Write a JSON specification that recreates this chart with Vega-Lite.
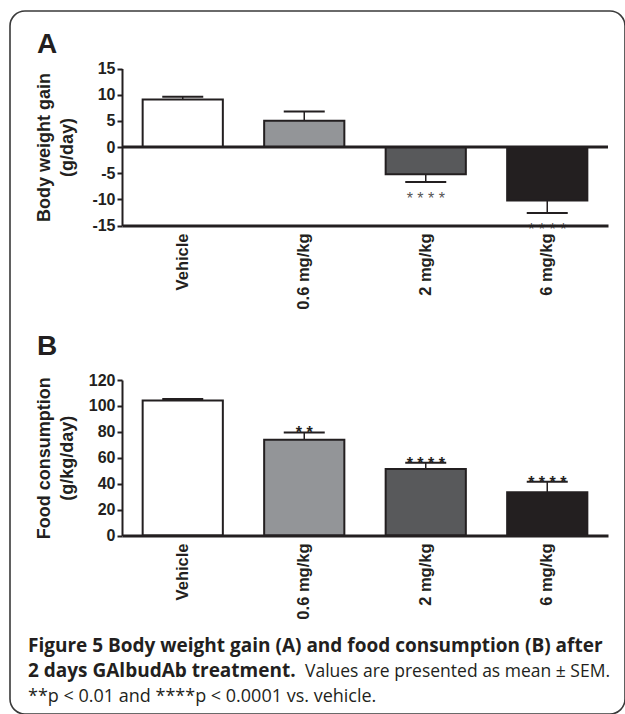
{
  "$schema": "https://vega.github.io/schema/vega-lite/v6.json",
  "width": 615,
  "height": 703,
  "autosize": {"type": "none"},
  "padding": {"left": 10, "top": 11, "right": 0, "bottom": 0},
  "background": "white",
  "config": {
    "view": {"stroke": "#3a3a3a", "strokeWidth": 1.6, "cornerRadius": 15, "fill": "white"},
    "axis": {"labelFont": "Liberation Sans", "titleFont": "Liberation Sans"},
    "text": {"font": "Liberation Sans"}
  },
  "datasets": {
    "weight": [
      {"group": "Vehicle", "mean": 9.1, "err": 9.6, "sig": null},
      {"group": "0.6 mg/kg", "mean": 5.0, "err": 6.8, "sig": null},
      {"group": "2 mg/kg", "mean": -5.2, "err": -6.7, "sig": "****"},
      {"group": "6 mg/kg", "mean": -10.2, "err": -12.6, "sig": "****"}
    ],
    "food": [
      {"group": "Vehicle", "mean": 104.2, "err": 105.4, "sig": null},
      {"group": "0.6 mg/kg", "mean": 73.8, "err": 79.5, "sig": "**"},
      {"group": "2 mg/kg", "mean": 51.3, "err": 56.2, "sig": "****"},
      {"group": "6 mg/kg", "mean": 33.3, "err": 41.5, "sig": "****"}
    ],
    "panels": [{"panel": "A"}, {"panel": "B"}],
    "caption": [
      {"line": 1, "part": "heading", "text": "Figure 5 Body weight gain (A) and food consumption (B) after"},
      {"line": 2, "part": "heading", "text": "2 days GAlbudAb treatment."},
      {"line": 2, "part": "body", "text": "Values are presented as mean ± SEM."},
      {"line": 3, "part": "body", "text": "**p < 0.01 and ****p < 0.0001 vs. vehicle."}
    ]
  },
  "layer": [
    {
      "data": {"name": "weight"},
      "transform": [{"calculate": "isValid(datum.sig) ? join(split(datum.sig, ''), ' ') : ''", "as": "stars"}],
      "encoding": {
        "x": {
          "field": "group", "type": "nominal", "sort": null,
          "scale": {"domain": ["Vehicle", "0.6 mg/kg", "2 mg/kg", "6 mg/kg"], "range": [112, 598], "paddingInner": 0.34, "paddingOuter": 0.17},
          "axis": {"orient": "bottom", "offset": -488.5, "title": null, "labelAngle": -90, "labelFontSize": 16.5, "labelFontWeight": "bold", "labelColor": "#231f20", "labelPadding": 7.5, "ticks": false, "tickSize": 0, "domainColor": "#231f20", "domainWidth": 3, "labelOverlap": false, "zindex": 1}
        }
      },
      "layer": [
        {
          "mark": {"type": "rule", "color": "#231f20", "strokeWidth": 1.5},
          "encoding": {
            "y": {"field": "mean", "type": "quantitative", "scale": {"domain": [-15, 15], "range": [214.5, 57.5], "nice": false, "zero": false},
              "axis": {"orient": "left", "offset": -112, "values": [-15, -10, -5, 0, 5, 10, 15], "labelExpr": "'' + datum.value", "title": ["Body weight gain", "(g/day)"], "titleFontSize": 18, "titleFontWeight": "bold", "titleColor": "#231f20", "titleLineHeight": 23, "titlePadding": 15, "labelFontSize": 16, "labelFontWeight": "bold", "labelColor": "#231f20", "labelPadding": 2, "labelOverlap": false, "labelFlush": false, "tickSize": 5, "tickWidth": 2, "tickColor": "#231f20", "domainColor": "#231f20", "domainWidth": 2, "grid": false}},
            "y2": {"field": "err"}
          }
        },
        {
          "mark": {"type": "bar", "stroke": "#231f20", "strokeWidth": 2},
          "encoding": {
            "y": {"field": "mean", "type": "quantitative", "scale": {"domain": [-15, 15], "range": [214.5, 57.5], "nice": false, "zero": false},
              "axis": {"orient": "left", "offset": -112, "values": [-15, -10, -5, 0, 5, 10, 15], "labelExpr": "'' + datum.value", "title": ["Body weight gain", "(g/day)"], "titleFontSize": 18, "titleFontWeight": "bold", "titleColor": "#231f20", "titleLineHeight": 23, "titlePadding": 15, "labelFontSize": 16, "labelFontWeight": "bold", "labelColor": "#231f20", "labelPadding": 2, "labelOverlap": false, "labelFlush": false, "tickSize": 5, "tickWidth": 2, "tickColor": "#231f20", "domainColor": "#231f20", "domainWidth": 2, "grid": false}},
            "fill": {"field": "group", "type": "nominal", "scale": {"domain": ["Vehicle", "0.6 mg/kg", "2 mg/kg", "6 mg/kg"], "range": ["#ffffff", "#939598", "#58595b", "#231f20"]}, "legend": null}
          }
        },
        {
          "mark": {"type": "tick", "color": "#231f20", "size": 41, "thickness": 2, "opacity": 1},
          "encoding": {
            "y": {"field": "err", "type": "quantitative", "scale": {"domain": [-15, 15], "range": [214.5, 57.5], "nice": false, "zero": false},
              "axis": {"orient": "left", "offset": -112, "values": [-15, -10, -5, 0, 5, 10, 15], "labelExpr": "'' + datum.value", "title": ["Body weight gain", "(g/day)"], "titleFontSize": 18, "titleFontWeight": "bold", "titleColor": "#231f20", "titleLineHeight": 23, "titlePadding": 15, "labelFontSize": 16, "labelFontWeight": "bold", "labelColor": "#231f20", "labelPadding": 2, "labelOverlap": false, "labelFlush": false, "tickSize": 5, "tickWidth": 2, "tickColor": "#231f20", "domainColor": "#231f20", "domainWidth": 2, "grid": false}}
          }
        },
        {
          "transform": [{"filter": "isValid(datum.sig)"}],
          "mark": {"type": "text", "fontSize": 16, "color": "#555555", "baseline": "alphabetic", "align": "center", "dy": 22},
          "encoding": {
            "y": {"field": "err", "type": "quantitative", "scale": {"domain": [-15, 15], "range": [214.5, 57.5], "nice": false, "zero": false},
              "axis": {"orient": "left", "offset": -112, "values": [-15, -10, -5, 0, 5, 10, 15], "labelExpr": "'' + datum.value", "title": ["Body weight gain", "(g/day)"], "titleFontSize": 18, "titleFontWeight": "bold", "titleColor": "#231f20", "titleLineHeight": 23, "titlePadding": 15, "labelFontSize": 16, "labelFontWeight": "bold", "labelColor": "#231f20", "labelPadding": 2, "labelOverlap": false, "labelFlush": false, "tickSize": 5, "tickWidth": 2, "tickColor": "#231f20", "domainColor": "#231f20", "domainWidth": 2, "grid": false}},
            "text": {"field": "stars"}
          }
        }
      ]
    },
    {
      "data": {"values": [{"line": "zero"}]},
      "mark": {"type": "rule", "color": "#231f20", "strokeWidth": 3},
      "encoding": {
        "x": {"datum": 0, "type": "quantitative", "scale": {"domain": [0, 1], "range": [112, 598], "nice": false, "zero": false}, "axis": null},
        "x2": {"datum": 1},
        "y": {"datum": 0, "type": "quantitative", "scale": {"domain": [-15, 15], "range": [214.5, 57.5], "nice": false, "zero": false}, "axis": null}
      }
    },
    {
      "data": {"name": "food"},
      "transform": [{"calculate": "isValid(datum.sig) ? join(split(datum.sig, ''), ' ') : ''", "as": "stars"}],
      "encoding": {
        "x": {
          "field": "group", "type": "nominal", "sort": null,
          "scale": {"domain": ["Vehicle", "0.6 mg/kg", "2 mg/kg", "6 mg/kg"], "range": [112, 598], "paddingInner": 0.34, "paddingOuter": 0.17},
          "axis": {"orient": "bottom", "offset": -178.5, "title": null, "labelAngle": -90, "labelFontSize": 16.5, "labelFontWeight": "bold", "labelColor": "#231f20", "labelPadding": 7.5, "ticks": false, "tickSize": 0, "domainColor": "#231f20", "domainWidth": 3, "labelOverlap": false, "zindex": 1}
        }
      },
      "layer": [
        {
          "mark": {"type": "rule", "color": "#231f20", "strokeWidth": 1.5},
          "encoding": {
            "y": {"field": "mean", "type": "quantitative", "scale": {"domain": [0, 120], "range": [524.5, 369], "nice": false, "zero": false},
              "axis": {"orient": "left", "offset": -112, "values": [0, 20, 40, 60, 80, 100, 120], "title": ["Food consumption", "(g/kg/day)"], "titleFontSize": 18, "titleFontWeight": "bold", "titleColor": "#231f20", "titleLineHeight": 23, "titlePadding": 12, "labelFontSize": 16, "labelFontWeight": "bold", "labelColor": "#231f20", "labelPadding": 2, "labelOverlap": false, "labelFlush": false, "tickSize": 5, "tickWidth": 2, "tickColor": "#231f20", "domainColor": "#231f20", "domainWidth": 2, "grid": false}},
            "y2": {"field": "err"}
          }
        },
        {
          "mark": {"type": "bar", "stroke": "#231f20", "strokeWidth": 2},
          "encoding": {
            "y": {"field": "mean", "type": "quantitative", "scale": {"domain": [0, 120], "range": [524.5, 369], "nice": false, "zero": false},
              "axis": {"orient": "left", "offset": -112, "values": [0, 20, 40, 60, 80, 100, 120], "title": ["Food consumption", "(g/kg/day)"], "titleFontSize": 18, "titleFontWeight": "bold", "titleColor": "#231f20", "titleLineHeight": 23, "titlePadding": 12, "labelFontSize": 16, "labelFontWeight": "bold", "labelColor": "#231f20", "labelPadding": 2, "labelOverlap": false, "labelFlush": false, "tickSize": 5, "tickWidth": 2, "tickColor": "#231f20", "domainColor": "#231f20", "domainWidth": 2, "grid": false}},
            "fill": {"field": "group", "type": "nominal", "scale": {"domain": ["Vehicle", "0.6 mg/kg", "2 mg/kg", "6 mg/kg"], "range": ["#ffffff", "#939598", "#58595b", "#231f20"]}, "legend": null}
          }
        },
        {
          "mark": {"type": "tick", "color": "#231f20", "size": 41, "thickness": 2, "opacity": 1},
          "encoding": {
            "y": {"field": "err", "type": "quantitative", "scale": {"domain": [0, 120], "range": [524.5, 369], "nice": false, "zero": false},
              "axis": {"orient": "left", "offset": -112, "values": [0, 20, 40, 60, 80, 100, 120], "title": ["Food consumption", "(g/kg/day)"], "titleFontSize": 18, "titleFontWeight": "bold", "titleColor": "#231f20", "titleLineHeight": 23, "titlePadding": 12, "labelFontSize": 16, "labelFontWeight": "bold", "labelColor": "#231f20", "labelPadding": 2, "labelOverlap": false, "labelFlush": false, "tickSize": 5, "tickWidth": 2, "tickColor": "#231f20", "domainColor": "#231f20", "domainWidth": 2, "grid": false}}
          }
        },
        {
          "transform": [{"filter": "isValid(datum.sig)"}],
          "mark": {"type": "text", "fontSize": 16, "fontWeight": "bold", "color": "#231f20", "baseline": "alphabetic", "align": "center", "dy": 6},
          "encoding": {
            "y": {"field": "err", "type": "quantitative", "scale": {"domain": [0, 120], "range": [524.5, 369], "nice": false, "zero": false},
              "axis": {"orient": "left", "offset": -112, "values": [0, 20, 40, 60, 80, 100, 120], "title": ["Food consumption", "(g/kg/day)"], "titleFontSize": 18, "titleFontWeight": "bold", "titleColor": "#231f20", "titleLineHeight": 23, "titlePadding": 12, "labelFontSize": 16, "labelFontWeight": "bold", "labelColor": "#231f20", "labelPadding": 2, "labelOverlap": false, "labelFlush": false, "tickSize": 5, "tickWidth": 2, "tickColor": "#231f20", "domainColor": "#231f20", "domainWidth": 2, "grid": false}},
            "text": {"field": "stars"}
          }
        }
      ]
    },
    {
      "data": {"name": "panels"},
      "mark": {"type": "text", "fontSize": 28, "fontWeight": "bold", "color": "#231f20", "align": "left", "baseline": "alphabetic"},
      "encoding": {
        "x": {"datum": 0, "type": "quantitative", "scale": {"domain": [0, 1], "range": [27, 598], "nice": false, "zero": false}, "axis": null},
        "y": {"field": "panel", "type": "ordinal", "scale": {"type": "point", "domain": ["A", "B"], "range": [42, 344], "padding": 0}, "axis": null},
        "text": {"field": "panel"}
      }
    },
    {
      "data": {"name": "caption"},
      "encoding": {
        "y": {"field": "line", "type": "ordinal", "scale": {"type": "point", "domain": [1, 2, 3], "range": [641, 691], "padding": 0}, "axis": null}
      },
      "layer": [
        {
          "transform": [{"filter": "datum.part == 'heading'"}],
          "mark": {"type": "text", "font": "Open Sans", "fontSize": 19, "fontWeight": "bold", "color": "#231f20", "align": "left", "baseline": "alphabetic"},
          "encoding": {
            "x": {"datum": 0, "type": "quantitative", "scale": {"domain": [0, 1], "range": [18, 600], "nice": false, "zero": false}, "axis": null},
            "text": {"field": "text"}
          }
        },
        {
          "transform": [{"filter": "datum.part == 'body' && datum.line == 3"}],
          "mark": {"type": "text", "font": "Open Sans", "fontSize": 18, "fontWeight": "normal", "color": "#231f20", "align": "left", "baseline": "alphabetic"},
          "encoding": {
            "x": {"datum": 0, "type": "quantitative", "scale": {"domain": [0, 1], "range": [18, 600], "nice": false, "zero": false}, "axis": null},
            "text": {"field": "text"}
          }
        },
        {
          "transform": [{"filter": "datum.part == 'body' && datum.line == 2"}],
          "mark": {"type": "text", "font": "Open Sans", "fontSize": 17.5, "fontWeight": "normal", "color": "#231f20", "align": "right", "baseline": "alphabetic"},
          "encoding": {
            "x": {"datum": 1, "type": "quantitative", "scale": {"domain": [0, 1], "range": [18, 600], "nice": false, "zero": false}, "axis": null},
            "text": {"field": "text"}
          }
        }
      ]
    }
  ],
  "resolve": {
    "scale": {"x": "independent", "y": "independent"},
    "axis": {"x": "independent", "y": "independent"}
  }
}
